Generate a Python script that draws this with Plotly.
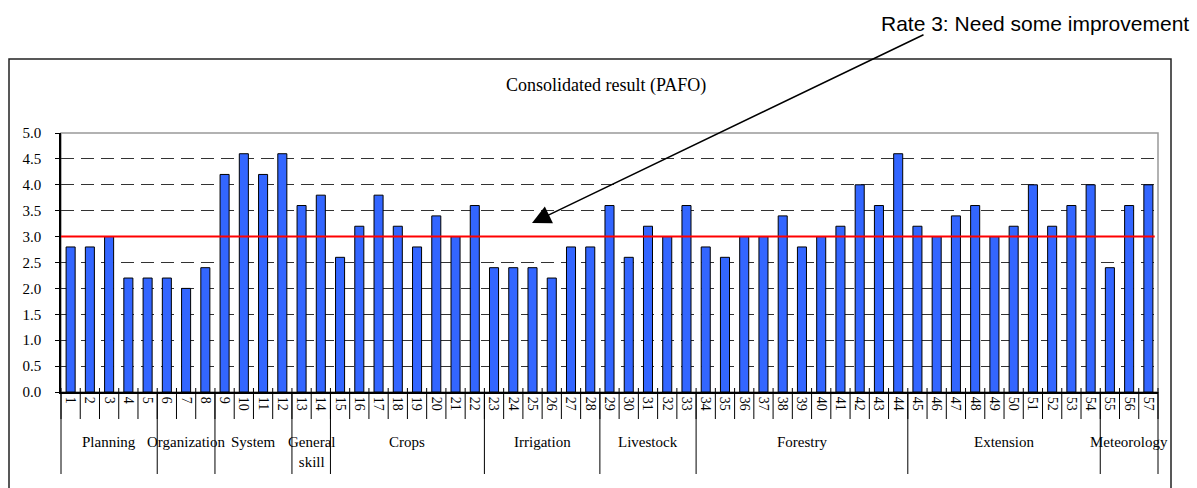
import plotly.graph_objects as go

# Indicator numbers and their consolidated scores
items = [str(i) for i in range(1, 58)]
scores = [2.8, 2.8, 3.0, 2.2, 2.2, 2.2, 2.0, 2.4, 4.2, 4.6,
          4.2, 4.6, 3.6, 3.8, 2.6, 3.2, 3.8, 3.2, 2.8, 3.4,
          3.0, 3.6, 2.4, 2.4, 2.4, 2.2, 2.8, 2.8, 3.6, 2.6,
          3.2, 3.0, 3.6, 2.8, 2.6, 3.0, 3.0, 3.4, 2.8, 3.0,
          3.2, 4.0, 3.6, 4.6, 3.2, 3.0, 3.4, 3.6, 3.0, 3.2,
          4.0, 3.2, 3.6, 4.0, 2.4, 3.6, 4.0]

# Capacity areas and the number of indicators in each
group_names = ["Planning", "Organization", "System", "General<br>skill", "Crops",
               "Irrigation", "Livestock", "Forestry", "Extension", "Meteorology"]
group_sizes = [5, 3, 4, 2, 8, 6, 5, 11, 10, 3]

threshold = 3.0
threshold_text = "Rate 3: Need some improvement"
title_text = "Consolidated result (PAFO)"
y_ticks = [0.0, 0.5, 1.0, 1.5, 2.0, 2.5, 3.0, 3.5, 4.0, 4.5, 5.0]

W, H = 1197, 488
L, R, T, B = 61, 39, 133, 96
PW, PH = W - L - R, H - T - B


def px_x(p):
    return (p - L) / PW


def px_y(p):
    return (H - B - p) / PH


serif = "Liberation Serif, Times New Roman, serif"
sans = "Liberation Sans, Arial, sans-serif"

fig = go.Figure()
fig.add_trace(go.Bar(
    x=items, y=scores, width=0.47,
    marker=dict(color="#3366FF", line=dict(color="black", width=1)),
    hoverinfo="x+y", showlegend=False,
))

shapes = []
# outer chart frame
shapes.append(dict(type="rect", xref="paper", yref="paper",
                   x0=px_x(9), x1=px_x(1171), y0=px_y(59), y1=px_y(520),
                   line=dict(color="#222222", width=1.5), layer="below"))
# plot-area border
shapes.append(dict(type="rect", xref="paper", yref="paper", x0=0, x1=1, y0=0, y1=1,
                   line=dict(color="#999999", width=1.5), layer="below"))
# threshold line
shapes.append(dict(type="line", xref="paper", yref="y", x0=0, x1=0.997,
                   y0=threshold, y1=threshold, line=dict(color="#FF0000", width=2)))

n = len(items)
# category tick marks at every boundary, crossing the axis
for i in range(n + 1):
    shapes.append(dict(type="line", xref="paper", yref="paper",
                       x0=i / n, x1=i / n, y0=px_y(388), y1=px_y(419),
                       line=dict(color="black", width=1)))
# group separators below the category axis
edges = [0]
for s in group_sizes:
    edges.append(edges[-1] + s)
for e in edges:
    shapes.append(dict(type="line", xref="paper", yref="paper",
                       x0=e / n, x1=e / n, y0=0, y1=px_y(474),
                       line=dict(color="black", width=1)))

annotations = []
start = 0
for name, size in zip(group_names, group_sizes):
    centre = start + size / 2 - 0.5
    annotations.append(dict(x=centre, y=px_y(432), xref="x", yref="paper",
                            text=name, showarrow=False, xanchor="center", yanchor="top",
                            font=dict(family=serif, size=15, color="black")))
    start += size

annotations.append(dict(x=px_x(606), y=px_y(86), xref="paper", yref="paper",
                        text=title_text, showarrow=False, xanchor="center", yanchor="middle",
                        font=dict(family=serif, size=18, color="black")))
annotations.append(dict(x=px_x(1191), y=px_y(24), xref="paper", yref="paper",
                        text=threshold_text, showarrow=False, xanchor="right", yanchor="middle",
                        font=dict(family=sans, size=21, color="black")))
annotations.append(dict(x=px_x(532), y=px_y(223), xref="paper", yref="paper",
                        text="", showarrow=True, ax=925 - 532, ay=34 - 223,
                        arrowhead=2, arrowsize=2.5, arrowwidth=1.5, arrowcolor="black",
                        standoff=0))

fig.update_layout(
    width=W, height=H, autosize=False,
    margin=dict(l=L, r=R, t=T, b=B, pad=0),
    paper_bgcolor="white", plot_bgcolor="white",
    shapes=shapes, annotations=annotations,
    bargap=0.5,
)
fig.update_xaxes(
    type="category", range=[-0.5, n - 0.5],
    showline=True, linecolor="black", linewidth=2,
    ticks="", tickangle=90,
    tickfont=dict(family=serif, size=14, color="black"),
    showgrid=False, zeroline=False, fixedrange=True,
)
fig.update_yaxes(
    range=[0, 5], tickvals=y_ticks, tickformat=".1f",
    showline=True, linecolor="black", linewidth=1.5,
    ticks="outside", ticklen=4, tickcolor="black", ticklabelstandoff=11,
    tickfont=dict(family=serif, size=15, color="black"),
    showgrid=True, gridcolor="#333333", gridwidth=1, griddash="13px,7px",
    zeroline=False, fixedrange=True,
)

fig.write_html("out.html")
